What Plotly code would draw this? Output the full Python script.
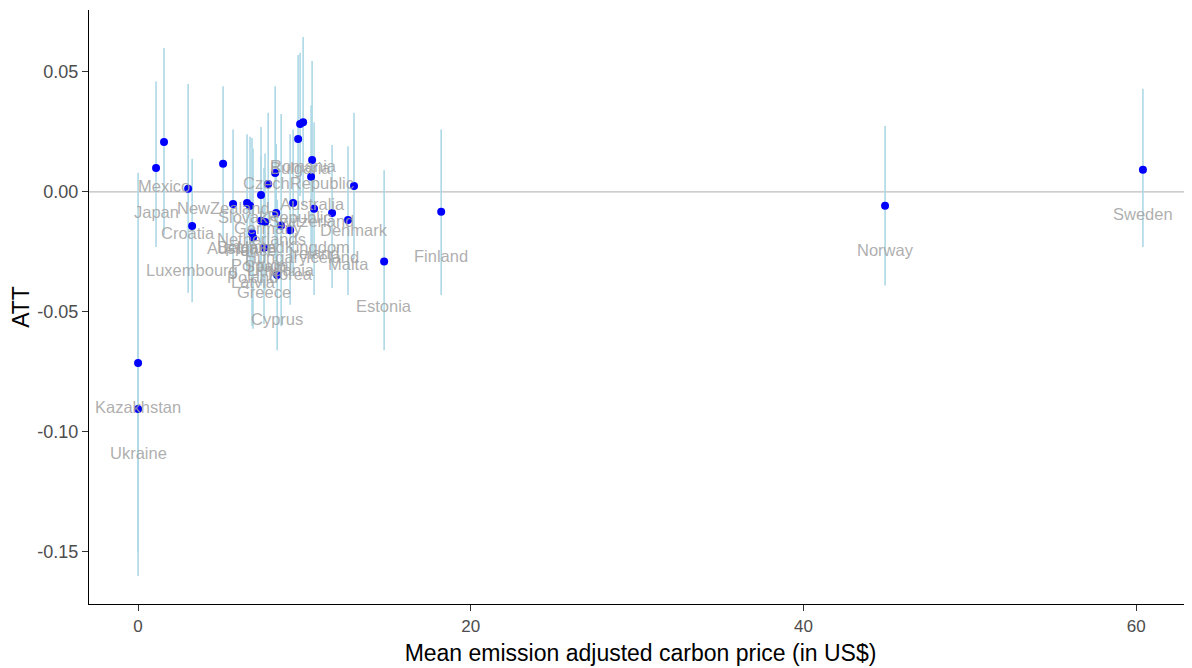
import plotly.graph_objects as go

countries = ["Kazakhstan", "Ukraine", "Japan", "Mexico", "Croatia", "Luxembourg",
             "NewZealand", "Austria", "Belgium", "France", "Poland", "Latvia",
             "Netherlands", "Portugal", "Spain", "Germany", "SlovakRepublic", "Hungary",
             "Lithuania", "Korea", "UnitedKingdom", "CzechRepublic", "Bulgaria", "Romania",
             "Switzerland", "Australia", "Ireland", "Iceland", "Malta", "Denmark",
             "Greece", "Cyprus", "Estonia", "Finland", "Norway", "Sweden"]
price = [0.0, 0.0, 1.08, 1.56, 3.01, 3.25,
         5.11, 5.71, 6.55, 6.73, 6.85, 6.91,
         7.39, 7.39, 7.63, 7.82, 8.24, 8.30,
         8.60, 9.14, 9.32, 9.62, 9.74, 9.92,
         10.40, 10.46, 10.58, 11.66, 12.62, 12.98,
         7.57, 8.36, 14.79, 18.22, 44.9, 60.4]
att = [-0.0713, -0.0904, 0.0100, 0.0208, 0.0013, -0.0142,
       0.0117, -0.0050, -0.0046, -0.0058, -0.0170, -0.0190,
       -0.0013, -0.0120, -0.0125, 0.0033, 0.0079, -0.0088,
       -0.0140, -0.0160, -0.0046, 0.0220, 0.0283, 0.0290,
       0.0063, 0.0133, -0.0070, -0.0088, -0.0117, 0.0025,
       -0.0233, -0.0346, -0.0290, -0.0083, -0.0058, 0.0092]
upper = [0.0080, -0.0200, 0.0460, 0.0600, 0.0450, 0.0138,
         0.0440, 0.0260, 0.0240, 0.0230, 0.0225, 0.0180,
         0.0270, 0.0150, 0.0160, 0.0330, 0.0440, 0.0200,
         0.0325, 0.0240, 0.0260, 0.0570, 0.0580, 0.0646,
         0.0360, 0.0546, 0.0290, 0.0196, 0.0190, 0.0330,
         0.0100, -0.0033, 0.0090, 0.0260, 0.0275, 0.0430]
lower = [-0.1500, -0.1600, -0.0230, -0.0180, -0.0420, -0.0460,
         -0.0210, -0.0360, -0.0330, -0.0350, -0.0560, -0.0570,
         -0.0300, -0.0390, -0.0410, -0.0270, -0.0280, -0.0380,
         -0.0560, -0.0470, -0.0350, -0.0125, -0.0017, -0.0060,
         -0.0230, -0.0280, -0.0430, -0.0400, -0.0430, -0.0280,
         -0.0550, -0.0660, -0.0660, -0.0430, -0.0390, -0.0230]

x_ticks = [0, 20, 40, 60]
x_tick_labels = ["0", "20", "40", "60"]
y_ticks = [0.05, 0.0, -0.05, -0.10, -0.15]
y_tick_labels = ["0.05", "0.00", "-0.05", "-0.10", "-0.15"]

err_plus = [u - a for u, a in zip(upper, att)]
err_minus = [a - l for a, l in zip(att, lower)]

FONT = "Liberation Sans, Arial, sans-serif"

fig = go.Figure()
fig.add_trace(go.Scatter(
    x=price, y=att, mode="markers",
    marker=dict(color="#0000FF", size=8, line=dict(width=0)),
    error_y=dict(type="data", symmetric=False, array=err_plus, arrayminus=err_minus,
                 color="#ADD8E6", thickness=1.6, width=0),
    hoverinfo="text", text=countries, showlegend=False,
))

for c, x, y in zip(countries, price, att):
    fig.add_annotation(x=x, y=y, text=c, showarrow=False, yshift=-44,
                       xanchor="center", yanchor="middle",
                       font=dict(family=FONT, size=16.5, color="rgba(160,160,160,0.85)"))

fig.add_shape(type="line", xref="paper", x0=0, x1=1, yref="y", y0=0, y1=0,
              line=dict(color="#BEBEBE", width=1.2), layer="below")

fig.update_layout(
    width=1184, height=660,
    margin=dict(l=81, r=0, t=2, b=64),
    paper_bgcolor="white", plot_bgcolor="white",
    font=dict(family=FONT, color="#4D4D4D"),
    xaxis=dict(range=[-2.95, 63.35], tickvals=x_ticks, ticktext=x_tick_labels,
               showgrid=False, zeroline=False, showline=True, linecolor="black",
               linewidth=1.3, ticks="outside", ticklen=6, tickcolor="#333333",
               tickfont=dict(size=17, color="#4D4D4D", family=FONT),
               title=dict(text="Mean emission adjusted carbon price (in US$)",
                          font=dict(size=23, color="black", family=FONT), standoff=10)),
    yaxis=dict(range=[-0.1717, 0.0758], tickvals=y_ticks, ticktext=y_tick_labels,
               showgrid=False, zeroline=False, showline=True, linecolor="black",
               linewidth=1.3, ticks="outside", ticklen=6, tickcolor="#333333",
               tickfont=dict(size=18, color="#4D4D4D", family=FONT),
               title=dict(text="ATT", font=dict(size=23, color="black", family=FONT),
                          standoff=10)),
)

fig.write_html("out.html")
